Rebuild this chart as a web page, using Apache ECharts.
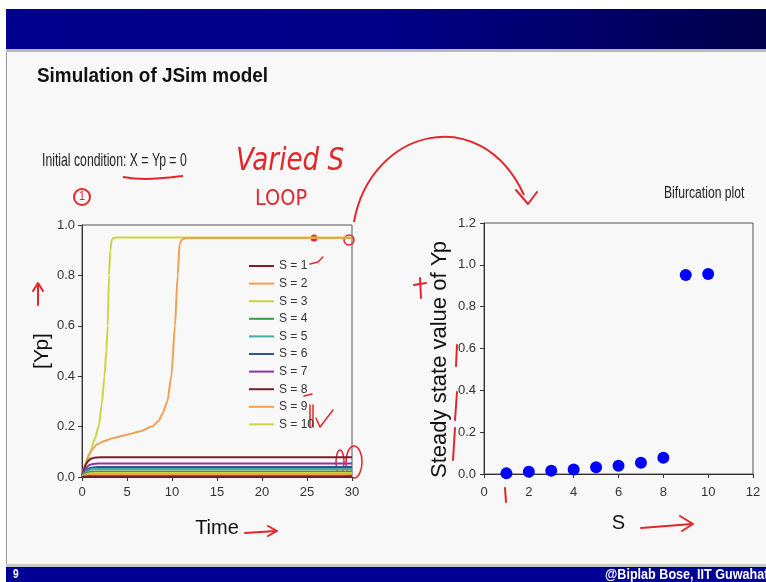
<!DOCTYPE html>
<html><head><meta charset="utf-8">
<script src="https://cdn.jsdelivr.net/npm/echarts@6/dist/echarts.min.js"></script>
<style>html,body{margin:0;padding:0;background:#fff}#c{width:766px;height:582px}</style>
</head><body><div id="c"></div>
<script>
// ---------- data ----------
const seriesNames = ['S = 1','S = 2','S = 3','S = 4','S = 5','S = 6','S = 7','S = 8','S = 9','S = 10'];
const lineColors = ['#7b1e2e','#f0a050','#c9d640','#3a9a44','#45aaa2','#2f548e','#8a35a8','#7b1e2e','#f0a050','#c9d640'];
const timeLow = [0,0.25,0.5,0.75,1,1.5,2,3,30];
const ypS1 = [0,0.0014,0.0021,0.0026,0.0028,0.0029,0.003,0.003,0.003];
const ypS2 = [0,0.005,0.0077,0.0094,0.0102,0.0108,0.011,0.011,0.011];
const ypS3 = [0,0.0072,0.0112,0.0136,0.0149,0.0157,0.016,0.016,0.016];
const ypS4 = [0,0.0099,0.0154,0.0187,0.0205,0.0216,0.022,0.022,0.022];
const ypS5 = [0,0.0144,0.0224,0.0272,0.0298,0.0314,0.032,0.032,0.032];
const ypS6 = [0,0.018,0.028,0.034,0.037,0.039,0.040,0.040,0.040];
const ypS7 = [0,0.024,0.038,0.046,0.050,0.053,0.054,0.054,0.054];
const ypS8 = [0,0.035,0.055,0.066,0.073,0.077,0.078,0.078,0.078];
const timeS9 = [0,0.37,0.74,1.2,1.67,2.5,3.53,5,6.5,7.8,8.5,8.92,9.48,9.93,10.33,10.63,10.85,11.15,11.6,13,30];
const ypS9 = [0,0.053,0.086,0.112,0.13,0.143,0.155,0.168,0.182,0.2,0.222,0.25,0.3,0.4,0.6,0.8,0.927,0.943,0.948,0.948,0.948];
const timeS10 = [0,0.3,0.93,1.4,1.86,2.2,2.5,2.7,2.86,3.0,3.15,3.3,3.5,3.8,5,30];
const ypS10 = [0,0.04,0.1,0.15,0.2,0.29,0.4,0.5,0.6,0.8,0.9,0.94,0.948,0.95,0.95,0.95];
const sValues = [1,2,3,4,5,6,7,8,9,10];
const steadyYp = [0.003,0.011,0.016,0.022,0.032,0.040,0.054,0.078,0.951,0.956];
const xTicksTime = {min:0,max:30,interval:5};
const yTicksYp = {min:0,max:1,interval:0.2};
const xTicksS = {min:0,max:12,interval:2};
const yTicksSS = {min:0,max:1.2,interval:0.2};

const SANS = '"Liberation Sans",Arial,sans-serif';
const RED = '#e3262b';

const lowSets = [ypS1,ypS2,ypS3,ypS4,ypS5,ypS6,ypS7,ypS8];
const zip = (xs, ys) => xs.map((x,i)=>[x, ys[i]]);
const timeData = lowSets.map(ys => zip(timeLow, ys)).concat([zip(timeS9, ypS9), zip(timeS10, ypS10)]);

const axisCommon = {
  axisLine:{show:true,onZero:false,lineStyle:{color:'#333',width:1}},
  axisTick:{show:true,inside:false,length:4,lineStyle:{color:'#333'}},
  splitLine:{show:false},
  axisLabel:{color:'#333',fontSize:13,fontFamily:SANS},
  nameTextStyle:{color:'#111',fontSize:20,fontFamily:SANS}
};

const lineSeries = timeData.map((d,i)=>({
  type:'line', name:seriesNames[i], xAxisIndex:0, yAxisIndex:0,
  data:d, showSymbol:false, symbol:'none', smooth:0.25, smoothMonotone:'x',
  lineStyle:{width:2,color:lineColors[i]}, itemStyle:{color:lineColors[i]},
  z: 10 - i, silent:true
}));

function sx(x, y, text, font, scale, fill, extra) {
  return Object.assign({type:'text', x:x, y:y, scaleX:scale,
    style:{text:text, x:0, y:0, fill:fill||'#222', font:font, verticalAlign:'middle', align:'left'}}, extra||{});
}
function pl(points, w) {
  return {type:'polyline',shape:{points:points},style:{stroke:RED,lineWidth:w||2,fill:'none',lineCap:'round',lineJoin:'round'}};
}

const chart = echarts.init(document.getElementById('c'), null, {renderer:'canvas'});
chart.setOption({
  animation:false,
  backgroundColor:'#ffffff',
  graphic:[
    {type:'rect',shape:{x:6,y:9,width:760,height:573},style:{fill:'#f8f8f8'},z:-10},
    {type:'rect',shape:{x:6,y:9,width:760,height:40},style:{fill:new echarts.graphic.LinearGradient(0,0,1,0,[{offset:0,color:'#00008e'},{offset:0.5,color:'#000088'},{offset:1,color:'#00004a'}])},z:-9},
    {type:'rect',shape:{x:6,y:49,width:760,height:3},style:{fill:'#b8b8b8'},z:-9},
    {type:'rect',shape:{x:6,y:564,width:760,height:3},style:{fill:'#c8c8c8'},z:-9},
    {type:'rect',shape:{x:6,y:567,width:760,height:15},style:{fill:'#000095'},z:-9},
    {type:'line',shape:{x1:6.5,y1:52,x2:6.5,y2:564},style:{stroke:'#9a9a9a',lineWidth:1},z:-9},
    sx(13, 575, '9', 'bold 12px '+SANS, 0.85, '#fff'),
    sx(605, 575, '@Biplab Bose, IIT Guwahati', 'bold 14px '+SANS, 0.9, '#fff'),
    sx(37, 76, 'Simulation of JSim model', 'bold 21px '+SANS, 0.9, '#111'),
    sx(42, 161, 'Initial condition: X = Yp = 0', '18px '+SANS, 0.68, '#222'),
    sx(664, 194, 'Bifurcation plot', '16px '+SANS, 0.76, '#222'),
    // handwritten-style annotations
    sx(236, 162, 'Varied S', 'italic 32px "DejaVu Sans",sans-serif', 0.82, RED),
    sx(255, 199, 'LOOP', '22px "DejaVu Sans",sans-serif', 0.88, RED),
    {type:'circle',shape:{cx:82,cy:197,r:8},style:{fill:'none',stroke:RED,lineWidth:2}},
    sx(79, 197, '1', '12px '+SANS, 0.9, RED),
    {type:'bezierCurve',shape:{x1:123,y1:177,x2:183,y2:176,cpx1:145,cpy1:181,cpx2:165,cpy2:178},style:{stroke:RED,lineWidth:2,fill:'none'}},
    {type:'bezierCurve',shape:{x1:354,y1:222,x2:524,y2:195,cpx1:370,cpy1:130,cpx2:480,cpy2:100},style:{stroke:RED,lineWidth:2,fill:'none'}},
    pl([[516,190],[528,204],[537,192]]),
    pl([[38,305],[38,284]]), pl([[33,291],[38,283],[43,291]]),
    pl([[245,533],[276,531]]), pl([[268,526],[277,531],[268,536]]),
    pl([[641,528],[692,524]]), pl([[680,516],[693,524],[682,531]]),
    pl([[420,278],[421,298]]), pl([[414,285],[426,283]]),
    pl([[457,345],[456,366]]), pl([[457,392],[455,420]]), pl([[455,428],[453,460]]),
    pl([[505,488],[506,502]]),
    {type:'circle',shape:{cx:314,cy:238,r:3.5},style:{fill:RED}},
    {type:'circle',shape:{cx:349,cy:240,r:5},style:{fill:'none',stroke:RED,lineWidth:1.5}},
    {type:'ellipse',shape:{cx:340,cy:462,rx:4,ry:12},style:{fill:'none',stroke:RED,lineWidth:1.5}},
    {type:'ellipse',shape:{cx:354,cy:462,rx:8,ry:16},style:{fill:'none',stroke:RED,lineWidth:1.5}},
    pl([[310,264],[318,262],[323,257]],1.5),
    pl([[304,396],[312,394]],1.5),
    pl([[310,405],[310,427]],1.5), pl([[313,405],[313,427]],1.5),
    pl([[316,418],[320,427],[333,410]],1.5)
  ],
  grid:[
    {left:82,top:225,width:270,height:252,show:true,borderColor:'#555',borderWidth:1,backgroundColor:'transparent'},
    {left:484,top:223,width:269,height:251,show:true,borderColor:'#555',borderWidth:1,backgroundColor:'transparent'}
  ],
  xAxis:[
    Object.assign({type:'value',gridIndex:0,name:'Time',nameLocation:'middle',nameGap:41},xTicksTime,axisCommon,{axisLabel:Object.assign({},axisCommon.axisLabel,{margin:9})}),
    Object.assign({type:'value',gridIndex:1,name:'S',nameLocation:'middle',nameGap:39},xTicksS,axisCommon,{axisLabel:Object.assign({},axisCommon.axisLabel,{margin:12})})
  ],
  yAxis:[
    Object.assign({type:'value',gridIndex:0,name:'[Yp]',nameLocation:'middle',nameGap:28},yTicksYp,axisCommon,{nameTextStyle:{color:'#111',fontSize:21,fontFamily:SANS},axisLabel:Object.assign({},axisCommon.axisLabel,{margin:7,formatter:v=>v.toFixed(1)})}),
    Object.assign({type:'value',gridIndex:1,name:'Steady state value of Yp',nameLocation:'middle',nameGap:33},yTicksSS,axisCommon,{nameTextStyle:{color:'#111',fontSize:22,fontFamily:SANS,padding:[0,22,0,0]},axisLabel:Object.assign({},axisCommon.axisLabel,{margin:8,formatter:v=>v.toFixed(1)})})
  ],
  legend:{
    data:seriesNames, orient:'vertical', left:244, top:254,
    icon:'rect', itemWidth:25, itemHeight:2, itemGap:3.6,
    textStyle:{color:'#333',fontSize:12,fontFamily:SANS,lineHeight:14},
    selectedMode:false
  },
  series: lineSeries.concat([{
    type:'scatter', name:'Steady state', xAxisIndex:1, yAxisIndex:1,
    data: zip(sValues, steadyYp), symbolSize:12, itemStyle:{color:'#0000ff',opacity:1}, z:20
  }])
});
</script>
</body></html>
